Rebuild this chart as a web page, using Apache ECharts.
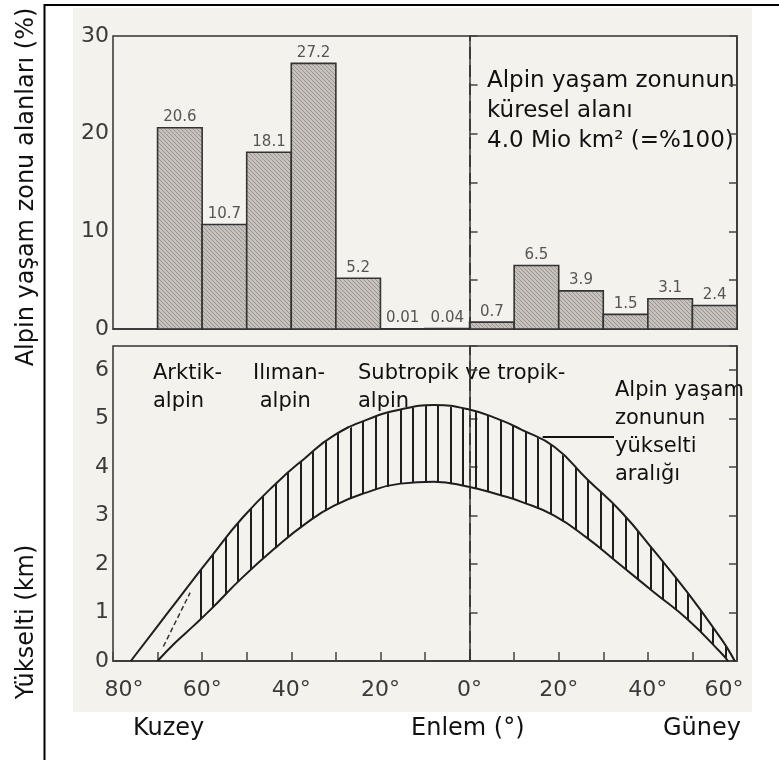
<!DOCTYPE html>
<html>
<head>
<meta charset="utf-8">
<script src="https://cdn.jsdelivr.net/npm/echarts@6/dist/echarts.min.js"></script>
<style>
html,body{margin:0;padding:0;background:#fff;}
#chart{width:779px;height:760px;}
</style>
</head>
<body>
<div id="chart"></div>
<script>
// ---- Data ----
// Upper panel: share of global alpine area per 10° latitude band (north negative)
const binStart = [-70, -60, -50, -40, -30, -20, -10, 0, 10, 20, 30, 40, 50];
const binEnd   = [-60, -50, -40, -30, -20, -10, 0, 10, 20, 30, 40, 50, 60];
const areaShare = [20.6, 10.7, 18.1, 27.2, 5.2, 0.01, 0.04, 0.7, 6.5, 3.9, 1.5, 3.1, 2.4];

// Lower panel: elevation band of the alpine life zone (km)
const curveLat = [-76, -70, -66, -62, -58, -51, -43, -37, -30.5, -23, -15.5, -8, -0.5, 7, 11.5, 19, 26.5, 34, 41.5, 49, 56.5, 58, 59.5];
const upperKm  = [0, 0.72, 1.2, 1.68, 2.15, 2.95, 3.7, 4.18, 4.65, 4.98, 5.19, 5.28, 5.2, 4.97, 4.78, 4.42, 3.74, 3.08, 2.26, 1.4, 0.45, 0.24, 0];
const lowerKm  = [null, 0, 0.38, 0.72, 1.07, 1.72, 2.38, 2.82, 3.2, 3.48, 3.66, 3.7, 3.6, 3.42, 3.29, 3.0, 2.53, 1.97, 1.41, 0.85, 0.16, 0, null];
const hatchFromLat = -62;
const sketchLine = [[-68.7, 0.3], [-62.7, 1.41]];
const leaderLine = [[16.4, 4.62], [32.4, 4.62]];

const xTicks = { min: -80, max: 60, step: 10, labelStep: 20 };
const yTopTicks = { min: 0, max: 30, step: 5, labelStep: 10 };
const yBotTicks = { min: 0, max: 6.5, step: 1 };

// ---- patterns ----
function barPattern() {
  const c = document.createElement('canvas');
  c.width = 4; c.height = 4;
  const g = c.getContext('2d');
  g.fillStyle = '#c6c1bc'; g.fillRect(0, 0, 4, 4);
  g.strokeStyle = '#9a958f'; g.lineWidth = 1;
  g.beginPath();
  g.moveTo(0, 0); g.lineTo(4, 4);
  g.moveTo(-2, 2); g.lineTo(2, 6);
  g.moveTo(2, -2); g.lineTo(6, 2);
  g.stroke();
  return { type: 'pattern', image: c, repeat: 'repeat' };
}
function vHatch() {
  const c = document.createElement('canvas');
  c.width = 25; c.height = 8;
  const g = c.getContext('2d');
  g.fillStyle = '#1e1e1e';
  g.fillRect(0, 0, 2, 8);
  g.fillRect(12, 0, 2, 8);
  return { type: 'pattern', image: c, repeat: 'repeat' };
}
const BAR_FILL = barPattern();
const BAND_FILL = vHatch();

const FF = 'DejaVu Sans';
const chart = echarts.init(document.getElementById('chart'), null, { renderer: 'canvas' });

const barData = binStart.map((s, i) => [s, binEnd[i], areaShare[i]]);
const upperData = curveLat.map((x, i) => [x, upperKm[i]]);
const lowerData = curveLat.map((x, i) => [x, lowerKm[i]]);

function bandPolygon(params, api) {
  const pts = [];
  for (let i = 0; i < curveLat.length; i++) {
    if (curveLat[i] >= hatchFromLat && upperKm[i] != null) pts.push(api.coord([curveLat[i], upperKm[i]]));
  }
  for (let i = curveLat.length - 1; i >= 0; i--) {
    if (curveLat[i] >= hatchFromLat && lowerKm[i] != null) pts.push(api.coord([curveLat[i], lowerKm[i]]));
  }
  return { type: 'polygon', shape: { points: pts, smooth: 0 }, style: { fill: BAND_FILL, stroke: null } };
}

function barItem(params, api) {
  const s = api.value(0), e = api.value(1), v = api.value(2);
  const p0 = api.coord([s, v]);
  const p1 = api.coord([e, 0]);
  return {
    type: 'group',
    children: [
      { type: 'rect', shape: { x: p0[0], y: p0[1], width: p1[0] - p0[0], height: p1[1] - p0[1] },
        style: { fill: BAR_FILL, stroke: '#333', lineWidth: 1.6 } },
      { type: 'text', style: { text: String(v), x: (p0[0] + p1[0]) / 2, y: p0[1] - 3,
        align: 'center', verticalAlign: 'bottom', fontSize: 15, fontFamily: FF, fill: '#555' } }
    ]
  };
}

const axisLineStyle = { color: '#333', width: 1.5 };
const tickStyle = { color: '#444', width: 1.5 };
const LBL = 22;

const option = {
  animation: false,
  backgroundColor: '#ffffff',
  grid: [
    { left: 113, top: 36, width: 624, height: 293, show: true, borderColor: '#333', borderWidth: 1.5, backgroundColor: 'transparent' },
    { left: 113, top: 346, width: 624, height: 315, show: true, borderColor: '#333', borderWidth: 1.5, backgroundColor: 'transparent' }
  ],
  xAxis: [
    { gridIndex: 0, type: 'value', min: xTicks.min, max: xTicks.max, interval: xTicks.step,
      axisLine: { show: true, lineStyle: axisLineStyle }, axisTick: { show: false }, axisLabel: { show: false }, splitLine: { show: false } },
    { gridIndex: 1, type: 'value', min: xTicks.min, max: xTicks.max, interval: xTicks.step,
      axisLine: { show: true, lineStyle: axisLineStyle },
      axisTick: { show: true, inside: true, length: 9, lineStyle: tickStyle },
      axisLabel: {
        margin: 18, fontSize: LBL, fontFamily: FF, color: '#3a3a3a',
        formatter: function (v) {
          if (v % xTicks.labelStep !== 0) return '';
          const t = Math.abs(v) + '°';
          if (v === xTicks.min) return '{l|' + t + '}';
          if (v === xTicks.max) return '{r|' + t + '}';
          return t;
        },
        rich: {
          l: { fontSize: LBL, fontFamily: FF, color: '#3a3a3a', padding: [0, 0, 0, 22] },
          r: { fontSize: LBL, fontFamily: FF, color: '#3a3a3a', padding: [0, 26, 0, 0] }
        }
      },
      splitLine: { show: false } }
  ],
  yAxis: [
    { gridIndex: 0, type: 'value', position: 'left', min: yTopTicks.min, max: yTopTicks.max, interval: yTopTicks.step,
      axisLine: { show: true, lineStyle: axisLineStyle },
      axisTick: { show: true, inside: true, length: 8, lineStyle: tickStyle },
      axisLabel: { margin: 4, fontSize: LBL, fontFamily: FF, color: '#3a3a3a',
        formatter: v => (v % yTopTicks.labelStep === 0 ? String(v) : '') },
      splitLine: { show: false } },
    { gridIndex: 0, type: 'value', position: 'right', min: yTopTicks.min, max: yTopTicks.max, interval: yTopTicks.step,
      axisLine: { show: true, lineStyle: axisLineStyle },
      axisTick: { show: true, inside: true, length: 8, lineStyle: tickStyle },
      axisLabel: { show: false }, splitLine: { show: false } },
    { gridIndex: 1, type: 'value', position: 'left', min: yBotTicks.min, max: yBotTicks.max, interval: yBotTicks.step,
      axisLine: { show: true, lineStyle: axisLineStyle },
      axisTick: { show: true, inside: true, length: 8, lineStyle: tickStyle },
      axisLabel: { margin: 4, fontSize: LBL, fontFamily: FF, color: '#3a3a3a',
        formatter: v => (Number.isInteger(v) ? String(v) : '') },
      splitLine: { show: false } },
    { gridIndex: 1, type: 'value', position: 'right', min: yBotTicks.min, max: yBotTicks.max, interval: yBotTicks.step,
      axisLine: { show: true, lineStyle: axisLineStyle },
      axisTick: { show: true, inside: true, length: 8, lineStyle: tickStyle },
      axisLabel: { show: false }, splitLine: { show: false } }
  ],
  series: [
    { type: 'custom', name: 'area', xAxisIndex: 0, yAxisIndex: 0, data: barData, renderItem: barItem,
      encode: { x: [0, 1], y: 2 }, z: 3 },
    { type: 'line', name: 'eq-top', xAxisIndex: 0, yAxisIndex: 0, data: [], symbol: 'none',
      markLine: { silent: true, symbol: ['none', 'none'], label: { show: false },
        lineStyle: { type: [12, 6], color: '#333', width: 1.6 }, data: [{ xAxis: 0 }] } },
    { type: 'custom', name: 'band', xAxisIndex: 1, yAxisIndex: 2, data: [[0, 0]], renderItem: bandPolygon, z: 2, silent: true },
    { type: 'line', name: 'upper', xAxisIndex: 1, yAxisIndex: 2, data: upperData, smooth: 0.5, symbol: 'none',
      lineStyle: { color: '#1e1e1e', width: 2 }, z: 4,
      markLine: { silent: true, symbol: ['none', 'none'], label: { show: false },
        lineStyle: { type: [12, 6], color: '#333', width: 1.6 },
        data: [
          { xAxis: 0 },
          [{ coord: leaderLine[0], lineStyle: { type: 'solid', color: '#111', width: 2 } }, { coord: leaderLine[1] }]
        ] } },
    { type: 'line', name: 'lower', xAxisIndex: 1, yAxisIndex: 2, data: lowerData, smooth: 0.5, symbol: 'none',
      connectNulls: false, lineStyle: { color: '#1e1e1e', width: 2 }, z: 4 },
    { type: 'line', name: 'sketch', xAxisIndex: 1, yAxisIndex: 2, data: sketchLine, symbol: 'none',
      lineStyle: { color: '#333', width: 1.5, type: [5, 3] }, z: 4 }
  ],
  graphic: [
    { type: 'rect', z: -100, shape: { x: 73, y: 8, width: 679, height: 704 }, style: { fill: '#f4f2ed' }, silent: true },
    { type: 'line', shape: { x1: 44.5, y1: 4, x2: 44.5, y2: 760 }, style: { stroke: '#000', lineWidth: 2 } },
    { type: 'line', shape: { x1: 44, y1: 5, x2: 779, y2: 5 }, style: { stroke: '#000', lineWidth: 2 } },
    { type: 'text', x: 27, y: 187, rotation: Math.PI / 2,
      style: { text: 'Alpin yaşam zonu alanları (%)', font: '24px "DejaVu Sans"', fill: '#111', align: 'center', verticalAlign: 'middle' } },
    { type: 'text', x: 27, y: 622, rotation: Math.PI / 2,
      style: { text: 'Yükselti (km)', font: '24px "DejaVu Sans"', fill: '#111', align: 'center', verticalAlign: 'middle' } },
    { type: 'text', x: 133, y: 729, style: { text: 'Kuzey', font: '24px "DejaVu Sans"', fill: '#111', align: 'left', verticalAlign: 'middle' } },
    { type: 'text', x: 411, y: 729, style: { text: 'Enlem (°)', font: '24px "DejaVu Sans"', fill: '#111', align: 'left', verticalAlign: 'middle' } },
    { type: 'text', x: 663, y: 729, style: { text: 'Güney', font: '24px "DejaVu Sans"', fill: '#111', align: 'left', verticalAlign: 'middle' } },
    { type: 'text', x: 487, y: 66, style: { text: 'Alpin yaşam zonunun\nküresel alanı\n4.0 Mio km² (=%100)', font: '23px "DejaVu Sans"', lineHeight: 30, fill: '#111', align: 'left', verticalAlign: 'top' } },
    { type: 'text', x: 153, y: 360, style: { text: 'Arktik-\nalpin', font: '21px "DejaVu Sans"', lineHeight: 28, fill: '#111', align: 'left', verticalAlign: 'top' } },
    { type: 'text', x: 253, y: 360, style: { text: 'Ilıman-\n alpin', font: '21px "DejaVu Sans"', lineHeight: 28, fill: '#111', align: 'left', verticalAlign: 'top' } },
    { type: 'text', x: 358, y: 360, style: { text: 'Subtropik ve tropik-\nalpin', font: '21px "DejaVu Sans"', lineHeight: 28, fill: '#111', align: 'left', verticalAlign: 'top' } },
    { type: 'text', x: 615, y: 377, style: { text: 'Alpin yaşam\nzonunun\nyükselti\naralığı', font: '21px "DejaVu Sans"', lineHeight: 28, fill: '#111', align: 'left', verticalAlign: 'top' } }
  ]
};
chart.setOption(option);
</script>
</body>
</html>
